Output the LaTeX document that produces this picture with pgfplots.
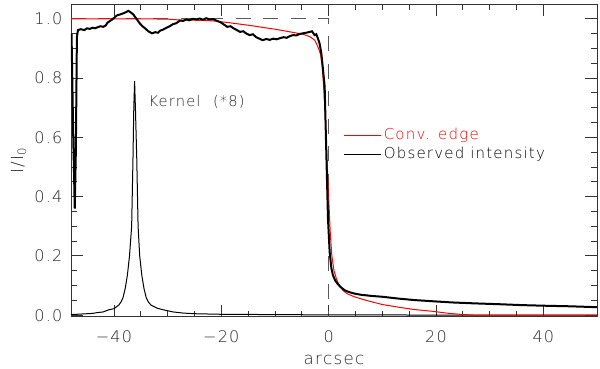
\documentclass[border=0pt]{standalone}
\usepackage{fontspec}
\IfFontExistsTF{DejaVu Sans ExtraLight}
  {\setmainfont{DejaVu Sans ExtraLight}[LetterSpace=8]}
  {\setmainfont{Liberation Sans}[LetterSpace=8]}
\usepackage{pgfplots}
\pgfplotsset{compat=1.18}

\begin{document}
\begin{tikzpicture}
\begin{axis}[
  at={(0,0)}, anchor=south west,
  scale only axis, width=315.6pt, height=187.6pt,
  xmin=-48, xmax=50, ymin=-0.005, ymax=1.05,
  xtick={-40,-20,0,20,40},
  xticklabels={−40,−20,0,20,40},
  ytick={0,0.2,0.4,0.6,0.8,1.0},
  yticklabels={0.0,0.2,0.4,0.6,0.8,1.0},
  minor x tick num=3, minor y tick num=3,
  major tick length=7pt, minor tick length=3.5pt,
  tick style={black!80, line width=0.5pt},
  axis line style={black!80, line width=0.5pt},
  ticklabel style={font=\fontsize{9.6}{11}\selectfont, text=black!85},
  xticklabel style={yshift=-5pt},
  yticklabel style={xshift=-1.6pt},
  xlabel={arcsec},
  ylabel={I/I\textsubscript{0}},
  label style={font=\fontsize{10}{12}\selectfont, text=black!85},
  xlabel style={yshift=-0.6pt},
  ylabel style={yshift=-2pt},
  legend style={at={(0.518,0.612)}, anchor=north west, draw=none, fill=none,
    inner sep=0pt, row sep=0pt, font=\fontsize{9}{11}\selectfont,
    nodes={inner sep=1.5pt}},
  legend cell align=left,
  legend image code/.code={\draw[#1, line width=0.5pt] (0pt,0pt) -- (22pt,0pt);},
]
% ideal edge
\addplot[black!65, line width=0.6pt, dash pattern=on 9pt off 7.5pt, forget plot]
  coordinates {(-48,1.0) (0,1.0) (0,-0.005)};
% kernel (*8)
\addplot[black, line width=0.6pt, forget plot] coordinates {
 (-48,0.002)(-46,0.004)(-44,0.006)(-43,0.009)(-42,0.011)(-41,0.018)(-40,0.022)
 (-39.1,0.034)(-38.6,0.047)(-38.3,0.060)(-37.9,0.090)(-37.5,0.134)(-37.1,0.200)
 (-36.7,0.300)(-36.45,0.530)(-36.3,0.700)(-36.15,0.790)(-36.0,0.700)(-35.75,0.530)
 (-35.5,0.300)(-35.2,0.200)(-34.8,0.134)(-34.4,0.090)(-34.0,0.060)(-33.6,0.045)
 (-33.1,0.034)(-32,0.024)(-31,0.019)(-29,0.011)(-27,0.007)(-25,0.005)(-20,0.003)
 (-10,0.002)(0,0.001)(20,0.0005)(50,0.0)
};
\addplot[red, line width=0.6pt] coordinates {
 (-48,1.0)(-35,1.0)(-30,0.999)(-27.7,0.996)(-24,0.995)(-21.5,0.993)(-19,0.988)
 (-16.5,0.982)(-14,0.976)(-12.3,0.971)(-10,0.965)(-7.2,0.956)(-4.8,0.948)
 (-3.5,0.940)(-2.6,0.928)(-2.0,0.906)(-1.5,0.880)(-1.2,0.840)(-0.93,0.772)
 (-0.6,0.660)(-0.3,0.520)(0,0.400)(0.3,0.280)(0.6,0.200)(1,0.150)(1.5,0.120)
 (2,0.100)(2.7,0.083)(3.5,0.072)(4.8,0.062)(7,0.050)(10,0.036)(13,0.027)
 (16,0.019)(19.4,0.013)(22,0.007)(24.4,0.003)(27,0.0005)(30,0.0)(50,0.0)
};
\addlegendentry{\textcolor{red}{Conv. edge}}
\addplot[black, line width=1.2pt] coordinates {
 (-47.9,0.95)(-47.6,0.62)(-47.3,0.36)(-47.1,0.55)(-46.9,0.94)(-46.7,0.962)
 (-46.2,0.965)(-45.5,0.962)(-45,0.968)(-44.5,0.966)(-44,0.970)(-43.5,0.968)
 (-43,0.972)(-42.5,0.975)(-42,0.973)(-41.5,0.978)(-41.2,0.987)(-40.8,0.992)
 (-40.3,0.998)(-39.8,1.006)(-39.4,1.012)(-38.8,1.015)(-38.2,1.019)(-37.7,1.023)
 (-37.3,1.027)(-36.9,1.022)(-36.4,1.015)(-35.8,1.000)(-35.2,0.985)(-34.7,0.975)
 (-34.2,0.968)(-33.6,0.958)(-32.9,0.951)(-32.3,0.955)(-31.8,0.953)(-31.4,0.960)
 (-30.8,0.964)(-30.2,0.970)(-29.6,0.975)(-29.0,0.982)(-28.4,0.985)(-27.7,0.994)
 (-27.1,0.993)(-26.5,0.998)(-26,0.995)(-25.3,1.000)(-24.7,0.998)(-24.0,1.001)
 (-23.4,0.997)(-22.8,1.002)(-22.2,0.998)(-21.5,0.999)(-20.8,0.993)(-20.2,0.989)
 (-19.6,0.982)(-18.9,0.973)(-18.3,0.975)(-17.7,0.968)(-17.1,0.962)(-16.5,0.956)
 (-15.9,0.958)(-15.3,0.950)(-14.7,0.945)(-14.1,0.948)(-13.5,0.938)(-12.9,0.933)
 (-12.3,0.928)(-11.6,0.932)(-11.0,0.929)(-10.3,0.933)(-9.7,0.931)(-9.0,0.935)
 (-8.4,0.938)(-7.8,0.936)(-7.2,0.942)(-6.6,0.945)(-6.0,0.944)(-5.4,0.949)
 (-4.8,0.951)(-4.2,0.953)(-3.5,0.956)(-3.1,0.958)(-2.8,0.950)(-2.6,0.945)
 (-2.3,0.948)(-2.0,0.934)(-1.7,0.918)(-1.36,0.884)(-1.0,0.820)(-0.74,0.772)
 (-0.43,0.548)(-0.12,0.325)(0.19,0.214)(0.5,0.160)(0.8,0.135)(1.2,0.118)
 (1.7,0.105)(2.3,0.094)(3.0,0.084)(3.8,0.078)(4.8,0.073)(6,0.069)(8,0.065)
 (10.1,0.062)(13,0.056)(16,0.051)(19.4,0.047)(23,0.043)(27,0.040)(31.8,0.037)
 (36,0.034)(40,0.032)(45,0.030)(50,0.027)
};
\addlegendentry{Observed intensity}
\node[anchor=west, inner sep=0pt, font=\fontsize{8.8}{10}\selectfont, text=black!85]
  at (axis cs:-33.6,0.72) {Kernel\hspace{4pt} (*8)};
\end{axis}
\pgfresetboundingbox
\useasboundingbox (-42.6pt,-30.8pt) rectangle (317.4pt,190pt);
\end{tikzpicture}
\end{document}
